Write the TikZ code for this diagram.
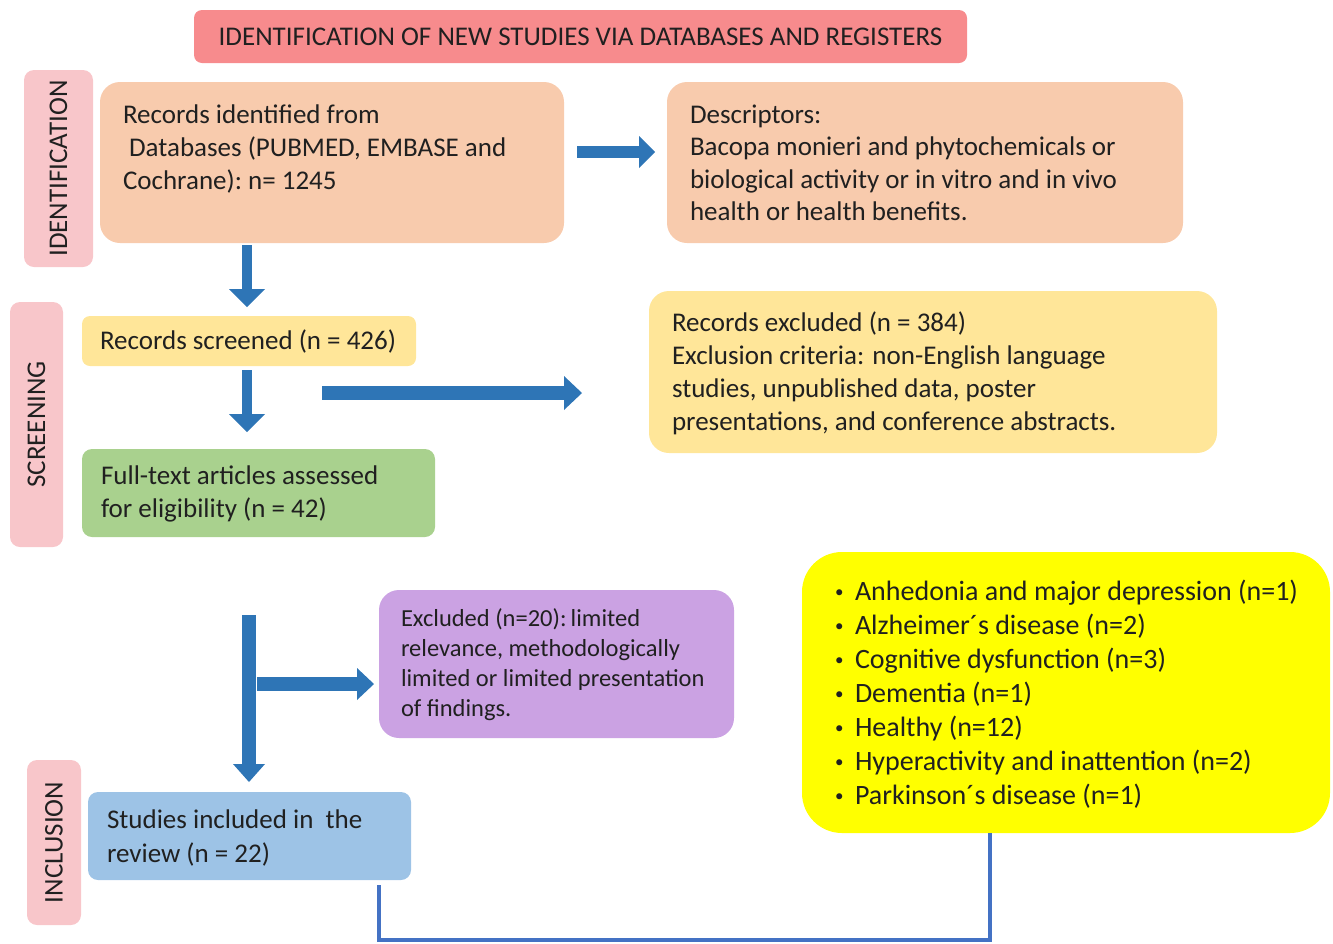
\documentclass[tikz,border=0pt]{standalone}
\usepackage{fontspec}
\setmainfont{Carlito}
\usetikzlibrary{arrows.meta,calc}
\definecolor{titlec}{HTML}{F78B8D}
\definecolor{sidec}{HTML}{F8C6CA}
\definecolor{peach}{HTML}{F8CBAD}
\definecolor{lyellow}{HTML}{FFE699}
\definecolor{lgreen}{HTML}{A9D18E}
\definecolor{lpurple}{HTML}{CBA2E3}
\definecolor{lblue}{HTML}{9DC3E6}
\definecolor{byellow}{HTML}{FFFF00}
\definecolor{arrowc}{HTML}{2E75B6}
\definecolor{connc}{HTML}{4472C4}
\definecolor{txtc}{HTML}{202020}
% xpad, box width, box height, top space, font size, baselineskip, text
\newcommand\bxt[7]{\hspace*{#1}\parbox[c][#3][t]{\dimexpr#2-#1\relax}{\fontsize{#5}{#6}\selectfont\raggedright\vspace*{#4}\strut #7}}
\newcommand\yb{\makebox[22pt][l]{\hspace*{2pt}\raisebox{3pt}{\fontsize{17}{17}\selectfont\textbullet}}}
\tikzset{
  bx/.style={anchor=north west, inner sep=0pt, outer sep=0pt, text=txtc},
  lab/.style={inner sep=0pt, outer sep=0pt, text=txtc, font=\fontsize{27}{33}\selectfont},
  barrow/.style n args={3}{draw=arrowc, line width=#1, -{Triangle[width=#2,length=#3,line width=0pt]}},
  conn/.style={draw=connc, line width=4.5pt}
}
\begin{document}
\begin{tikzpicture}[x=1pt,y=-1pt]
\useasboundingbox (0,0) rectangle (1333,943);
% title and stage labels
\node[lab, fill=titlec, rounded corners=8pt, minimum width=773pt, minimum height=53pt] (title) at (580.5,36.5) {IDENTIFICATION OF NEW STUDIES VIA DATABASES AND REGISTERS};
\node[lab, fill=sidec, rounded corners=10pt, rotate=90, minimum width=197pt, minimum height=69pt] (sid) at (58.5,168.5) {IDENTIFICATION};
\node[lab, fill=sidec, rounded corners=10pt, rotate=90, minimum width=245pt, minimum height=53pt] (sscr) at (36.5,424.5) {SCREENING};
\node[lab, fill=sidec, rounded corners=10pt, rotate=90, minimum width=165pt, minimum height=54pt] (sinc) at (54,842.5) {INCLUSION};
% boxes
\node[bx, fill=peach, rounded corners=20pt] (rec) at (100,82)
  {\bxt{23pt}{464pt}{161pt}{18.5pt}{27}{33}{Records identified from\\\ Databases (PUBMED, EMBASE and\\Cochrane):\ n= 1245}};
\node[bx, fill=peach, rounded corners=20pt] (desc) at (667,82)
  {\bxt{23pt}{516pt}{161pt}{18.5pt}{27}{32.5}{Descriptors:\\Bacopa monieri and phytochemicals or\\biological activity or in vitro and in vivo\\health or health benefits.}};
\node[bx, fill=lyellow, rounded corners=8pt] (scr) at (82,316)
  {\bxt{18pt}{334pt}{50pt}{10.4pt}{27}{33}{Records screened (n = 426)}};
\node[bx, fill=lyellow, rounded corners=20pt] (exc) at (649,291)
  {\bxt{23pt}{568pt}{162pt}{17.4pt}{27}{33}{Records excluded (n = 384)\\Exclusion criteria: non-English language\\studies, unpublished data, poster\\presentations, and conference abstracts.}};
\node[bx, fill=lgreen, rounded corners=10pt] (full) at (82,449)
  {\bxt{19pt}{353pt}{88pt}{12.4pt}{27}{33}{Full-text articles assessed\\for eligibility (n = 42)}};
\node[bx, fill=lpurple, rounded corners=20pt] (pur) at (379,590)
  {\bxt{22pt}{355pt}{148pt}{15.9pt}{24.5}{30}{Excluded (n=20):\,limited\\relevance, methodologically\\limited or limited presentation\\of findings.}};
\node[bx, fill=lblue, rounded corners=10pt] (inc) at (88,792)
  {\bxt{19pt}{323pt}{88pt}{12.4pt}{27}{34}{Studies included in\ \ the\\review (n = 22)}};
\node[bx, fill=byellow, rounded corners=40pt] (dis) at (802,552)
  {\bxt{31pt}{528pt}{281pt}{25pt}{28}{34}{\yb Anhedonia and major depression (n=1)\\\yb Alzheimer´s disease (n=2)\\\yb Cognitive dysfunction (n=3)\\\yb Dementia (n=1)\\\yb Healthy (n=12)\\\yb Hyperactivity and inattention (n=2)\\\yb Parkinson´s disease (n=1)}};
% helper coordinates
\coordinate (a1) at (577,152);
\coordinate (a2) at (322,393);
\coordinate (v1) at (249,615);
\coordinate (b1) at (257,684);
\coordinate (c2) at (990,940);
% arrows
\draw[barrow={12pt}{32pt}{16pt}] (a1) -- ($(desc.west |- a1)+(-12,0)$);
\draw[barrow={10pt}{36pt}{18pt}] ($(rec.south west)+(147,2)$) -- ($(scr.north west)+(165,-9)$);
\draw[barrow={10pt}{36pt}{18pt}] ($(scr.south west)+(165,4)$) -- ($(full.north west)+(165,-17)$);
\draw[barrow={14pt}{34pt}{18pt}] (a2) -- ($(exc.west |- a2)+(-67,0)$);
\draw[barrow={14pt}{32pt}{18pt}] (v1) -- ($(inc.north west)+(161,-10)$);
\draw[barrow={14pt}{32pt}{17pt}] (b1) -- ($(pur.west |- b1)+(-5,0)$);
% connector
\draw[conn] ($(inc.south east)+(-32,5)$) |- (c2) -- (c2 |- dis.south);
\end{tikzpicture}
\end{document}
